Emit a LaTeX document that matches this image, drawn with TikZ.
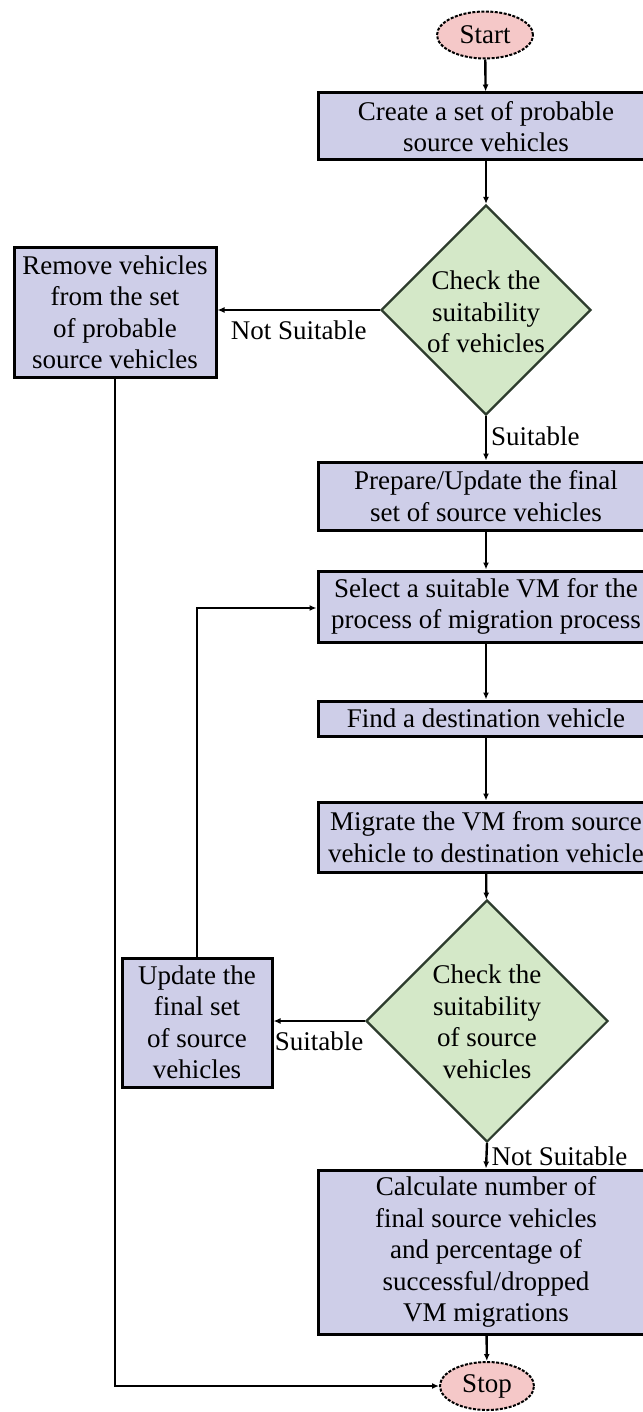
\documentclass[tikz,border=0pt]{standalone}
\usepackage{fontspec}
\setmainfont{Liberation Serif}
\usetikzlibrary{shapes.geometric,arrows.meta}
\definecolor{boxfill}{RGB}{206,206,232}
\definecolor{decfill}{RGB}{212,232,200}
\definecolor{decline}{RGB}{45,60,45}
\definecolor{termfill}{RGB}{245,200,200}
\begin{document}
\begin{tikzpicture}[x=1pt,y=-1pt,
  font=\fontsize{27}{31.5}\selectfont,
  proc/.style={draw=black, line width=3pt, fill=boxfill, align=center, inner sep=0pt},
  dec/.style={diamond, draw=decline, line width=2.2pt, fill=decfill, inner sep=0pt},
  term/.style={ellipse, draw=black, line width=2pt, dash pattern=on 3pt off 1.5pt, fill=termfill, inner sep=0pt},
  conn/.style={line width=2.4pt, -{Latex[length=7pt,width=6pt]}},
  lab/.style={inner sep=0pt}
]
\useasboundingbox (0,0) rectangle (642,1412);
\fill[white] (0,0) rectangle (642,1412);

\node[term, minimum width=96pt, minimum height=47pt] (start) at (485,35) {Start};
\node[proc, minimum width=336pt, minimum height=67pt] (create) at (486,126.5) {Create a set of probable\\source vehicles};
\node[dec, minimum width=210pt, minimum height=210pt] (d1) at (486,310) {};
\node[align=center, inner sep=0pt] (d1t) at (486,312) {Check the\\suitability\\of vehicles};
\node[proc, minimum width=202pt, minimum height=129pt] (remove) at (115,312.5) {Remove vehicles\\from the set\\of probable\\source vehicles};
\node[proc, minimum width=336pt, minimum height=68pt] (prepare) at (486,496) {Prepare/Update the final\\set of source vehicles};
\node[proc, minimum width=336pt, minimum height=71pt] (select) at (486,606.5) {Select a suitable VM for the\\process of migration process};
\node[proc, minimum width=336pt, minimum height=35pt] (find) at (486,718.5) {Find a destination vehicle};
\node[proc, minimum width=336pt, minimum height=70pt] (migrate) at (486,837) {Migrate the VM from source\\vehicle to destination vehicle};
\node[dec, minimum width=242pt, minimum height=242pt] (d2) at (487,1021) {};
\node[align=center, inner sep=0pt] (d2t) at (487,1022) {Check the\\suitability\\of source\\vehicles};
\node[proc, minimum width=150pt, minimum height=129pt] (update) at (197,1022.5) {Update the\\final set\\of source\\vehicles};
\node[proc, minimum width=336pt, minimum height=164pt] (calc) at (486,1252) {Calculate number of\\final source vehicles\\and percentage of\\successful/dropped\\VM migrations};
\node[term, minimum width=94pt, minimum height=48pt] (stop) at (487,1386) {Stop};

\coordinate (c1) at (115,1386);
\coordinate (c2) at (197,608);

\draw[conn] (start) -- (create);
\draw[conn] (create) -- (d1);
\draw[conn] (d1.west) -- (remove.east |- d1.west) node[lab, pos=0.5, below=10pt] {Not Suitable};
\draw[conn] (d1.south) -- (prepare.north) node[lab, pos=0.45, right=4pt] {Suitable};
\draw[conn] (prepare) -- (select);
\draw[conn] (select) -- (find);
\draw[conn] (find) -- (migrate);
\draw[conn] (migrate) -- (d2);
\draw[conn] (d2.west) -- (update.east |- d2.west) node[lab, pos=0.5, below=10pt] {Suitable};
\draw[conn] (d2.south) -- (calc.north) node[lab, pos=0.5, right=4pt] {Not Suitable};
\draw[conn] (calc) -- (stop);
\draw[conn] (update.north) -- (c2) -- (select.west |- c2);
\draw[conn] (remove.south) -- (c1) -- (stop.west);
\end{tikzpicture}
\end{document}
